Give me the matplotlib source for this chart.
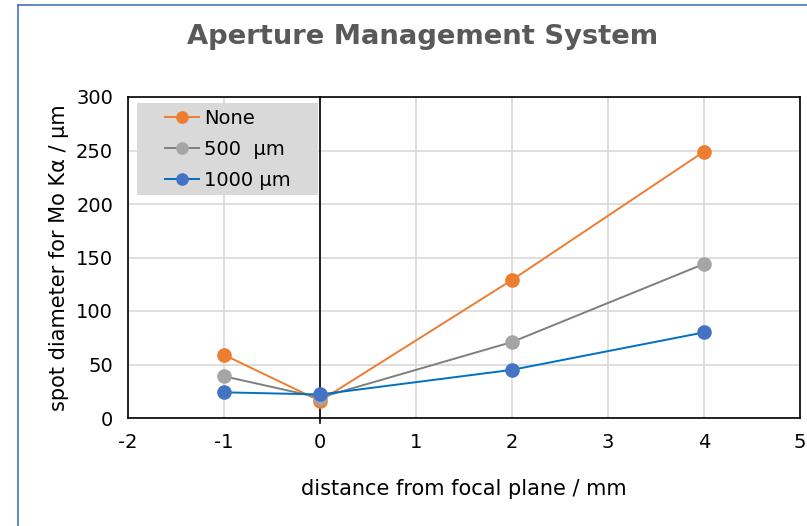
import matplotlib
matplotlib.use("Agg")
import matplotlib.pyplot as plt
from matplotlib.lines import Line2D
from matplotlib.patches import Rectangle

plt.rcParams['font.family'] = ['DejaVu Sans']

x = [-1, 0, 2, 4]
none_vals = [59, 16, 129, 249]
um500_vals = [39, 19, 71, 144]
um1000_vals = [24, 22, 45, 80]
labels = ['None', '500  μm', '1000 μm']
xticks = [-2, -1, 0, 1, 2, 3, 4, 5]
yticks = [0, 50, 100, 150, 200, 250, 300]

fig = plt.figure(figsize=(8.07, 5.26), dpi=100)
ax = fig.add_axes([128/807, 1-418/526, (800-128)/807, (418-97)/526])

series = [
    (none_vals, '#ED7D31', '#ED7D31'),
    (um500_vals, '#7F7F7F', '#A5A5A5'),
    (um1000_vals, '#0070C0', '#4472C4'),
]
for (vals, lc, mc), lab in zip(series, labels):
    ax.plot(x, vals, color=lc, lw=1.4, marker='o', markersize=9.5,
            markerfacecolor=mc, markeredgecolor=mc, label=lab, zorder=3)

ax.set_xlim(-2, 5)
ax.set_ylim(0, 300)
ax.set_xticks(xticks)
ax.set_yticks(yticks)
ax.set_xticklabels([str(t) for t in xticks])
ax.grid(True, color='#D9D9D9', lw=1.2)
ax.set_axisbelow(True)
ax.tick_params(length=0, labelsize=14, colors='black')
ax.tick_params(axis='x', pad=11)
ax.tick_params(axis='y', pad=10.7)
for s in ax.spines.values():
    s.set_color('black')
    s.set_linewidth(1.2)
ax.axvline(0, ymin=-0.015, ymax=1, color='black', lw=1.2, clip_on=False, zorder=2)

ax.set_xlabel('distance from focal plane / mm', fontsize=15, labelpad=19)
ax.set_ylabel('spot diameter for Mo Kα / μm', fontsize=15, labelpad=5)

fig.text(423/807, 1-37/526, 'Aperture Management System', ha='center', va='center',
         fontsize=19.7, fontweight='bold', color='#595959')

# legend background box
ax.add_patch(Rectangle((9/672, (418-195)/321), 181/672, 92/321,
                       transform=ax.transAxes, facecolor='#D9D9D9',
                       edgecolor='none', zorder=4))
leg = ax.legend(loc='upper left', bbox_to_anchor=(37/672, 1-12/321), frameon=False,
                fontsize=14, handlelength=1.75, borderpad=0,
                labelspacing=0.62, handletextpad=0.25, borderaxespad=0,
                markerscale=0.85)
leg.set_zorder(5)

# outer chart border (blue, left and top)
fig.add_artist(Line2D([18/807, 18/807], [0, 1-5/526], color='#4472C4', lw=1.2))
fig.add_artist(Line2D([18/807, 1], [1-5/526, 1-5/526], color='#4472C4', lw=1.2))

fig.savefig('out.png', dpi=100)
